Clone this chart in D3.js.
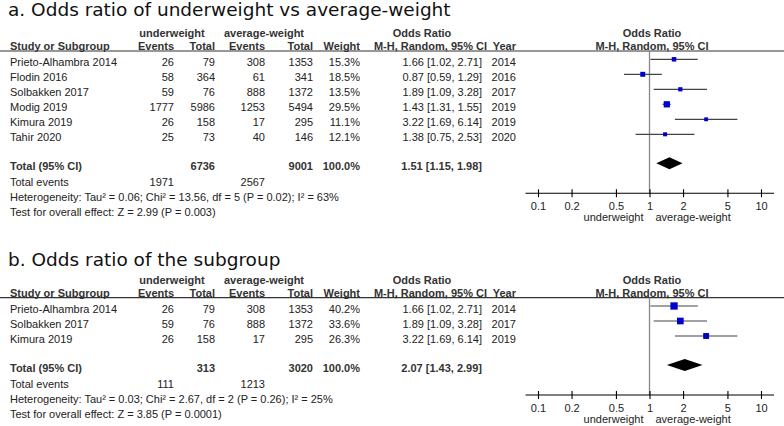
<!DOCTYPE html>
<html><head><meta charset="utf-8">
<script src="https://cdn.jsdelivr.net/npm/d3@7"></script>
<style>
body{margin:0;background:#fff;}
text{font-family:"Liberation Sans",Arial,sans-serif;font-size:11px;fill:#222;}
.title{font-family:"DejaVu Sans",sans-serif;font-size:18.5px;fill:#111;}
.b{font-weight:bold;fill:#333;}
</style></head><body>
<svg id="c" width="784" height="426"></svg>
<script>
// Panel a data
const studiesA = ["Prieto-Alhambra 2014","Flodin 2016","Solbakken 2017","Modig 2019","Kimura 2019","Tahir 2020"];
const evUWA = [26,58,59,1777,26,25];
const totUWA = [79,364,76,5986,158,73];
const evAWA = [308,61,888,1253,17,40];
const totAWA = [1353,341,1372,5494,295,146];
const weightA = [15.3,18.5,13.5,29.5,11.1,12.1];
const orA = [1.66,0.87,1.89,1.43,3.22,1.38];
const loA = [1.02,0.59,1.09,1.31,1.69,0.75];
const hiA = [2.71,1.29,3.28,1.55,6.14,2.53];
const yearA = [2014,2016,2017,2019,2019,2020];
const totalA = {uw:6736, aw:9001, w:"100.0%", or:1.51, lo:1.15, hi:1.98, evUW:1971, evAW:2567,
  het:"Heterogeneity: Tau² = 0.06; Chi² = 13.56, df = 5 (P = 0.02); I² = 63%",
  test:"Test for overall effect: Z = 2.99 (P = 0.003)"};

// Panel b data
const studiesB = ["Prieto-Alhambra 2014","Solbakken 2017","Kimura 2019"];
const evUWB = [26,59,26];
const totUWB = [79,76,158];
const evAWB = [308,888,17];
const totAWB = [1353,1372,295];
const weightB = [40.2,33.6,26.3];
const orB = [1.66,1.89,3.22];
const loB = [1.02,1.09,1.69];
const hiB = [2.71,3.28,6.14];
const yearB = [2014,2017,2019];
const totalB = {uw:313, aw:3020, w:"100.0%", or:2.07, lo:1.43, hi:2.99, evUW:111, evAW:1213,
  het:"Heterogeneity: Tau² = 0.03; Chi² = 2.67, df = 2 (P = 0.26); I² = 25%",
  test:"Test for overall effect: Z = 3.85 (P = 0.0001)"};

const tickVals = [0.1,0.2,0.5,1,2,5,10];
const tickLabels = ["0.1","0.2","0.5","1","2","5","10"];

const svg = d3.select("#c");
const x = d3.scaleLog().domain([0.1,10]).range([538,761]);
const size = d3.scaleSqrt().domain([0,40.2]).range([0,7.3]);
const fmt = d3.format(".2f");
const ciText = (o,l,h)=>`${fmt(o)} [${fmt(l)}, ${fmt(h)}]`;

// column right edges
const col = {study:10, evUW:174, totUW:215, evAW:265, totAW:313, w:360, or:482, year:516};

function panel(title, titleY, top, studies, evUW, totUW, evAW, totAW, weight, or, lo, hi, year, tot){
  const g = svg.append("g");
  g.append("text").attr("class","title").attr("x",8).attr("y",titleY).text(title);
  const h1 = top+37, h2 = top+50, rule = top+51;
  g.append("text").attr("class","b").attr("x",172).attr("y",h1).attr("text-anchor","middle").text("underweight");
  g.append("text").attr("class","b").attr("x",264).attr("y",h1).attr("text-anchor","middle").text("average-weight");
  g.append("text").attr("class","b").attr("x",422).attr("y",h1).attr("text-anchor","middle").text("Odds Ratio");
  g.append("text").attr("class","b").attr("x",652).attr("y",h1).attr("text-anchor","middle").text("Odds Ratio");
  g.append("text").attr("class","b").attr("x",col.study).attr("y",h2).text("Study or Subgroup");
  const hdr = [["Events",col.evUW],["Total",col.totUW],["Events",col.evAW],["Total",col.totAW],["Weight",col.w],["Year",col.year]];
  hdr.forEach(([t,cx])=>g.append("text").attr("class","b").attr("x",cx).attr("y",h2).attr("text-anchor","end").text(t));
  g.append("text").attr("class","b").attr("x",487).attr("y",h2).attr("text-anchor","end").text("M-H, Random, 95% CI");
  g.append("text").attr("class","b").attr("x",652).attr("y",h2).attr("text-anchor","middle").text("M-H, Random, 95% CI");
  g.append("line").attr("x1",0).attr("x2",784).attr("y1",rule).attr("y2",rule).attr("stroke","#333").attr("stroke-width",1.2);

  const row0 = top+59.3, step = 15;
  const ry = i => row0 + i*step;
  const totY = row0 + (studies.length+1)*step - 1;
  const axisY = totY + 30;

  // null line
  g.append("line").attr("x1",x(1)).attr("x2",x(1)).attr("y1",rule).attr("y2",axisY).attr("stroke","#888").attr("stroke-width",1.3);

  studies.forEach((s,i)=>{
    const ty = ry(i)+7;
    g.append("text").attr("x",col.study).attr("y",ty).text(s);
    [[evUW[i],col.evUW],[totUW[i],col.totUW],[evAW[i],col.evAW],[totAW[i],col.totAW],[weight[i].toFixed(1)+"%",col.w],[ciText(or[i],lo[i],hi[i]),col.or],[year[i],col.year]]
      .forEach(([t,cx])=>g.append("text").attr("x",cx).attr("y",ty).attr("text-anchor","end").text(t));
    g.append("line").attr("x1",x(lo[i])).attr("x2",x(hi[i])).attr("y1",ry(i)).attr("y2",ry(i)).attr("stroke","#444").attr("stroke-width",1.2);
    const sz = size(weight[i]);
    g.append("rect").attr("x",x(or[i])-sz/2).attr("y",ry(i)-sz/2).attr("width",sz).attr("height",sz).attr("fill","#0000cc");
  });

  const tty = totY+6.7;
  g.append("text").attr("class","b").attr("x",col.study).attr("y",tty).text("Total (95% CI)");
  [[tot.uw,col.totUW],[tot.aw,col.totAW],[tot.w,col.w],[ciText(tot.or,tot.lo,tot.hi),col.or]]
    .forEach(([t,cx])=>g.append("text").attr("class","b").attr("x",cx).attr("y",tty).attr("text-anchor","end").text(t));
  const dh = 6;
  g.append("path").attr("d",`M${x(tot.lo)},${totY}L${x(tot.or)},${totY-dh}L${x(tot.hi)},${totY}L${x(tot.or)},${totY+dh}Z`).attr("fill","#000");

  g.append("text").attr("x",col.study).attr("y",totY+23).text("Total events");
  g.append("text").attr("x",col.evUW).attr("y",totY+23).attr("text-anchor","end").text(tot.evUW);
  g.append("text").attr("x",col.evAW).attr("y",totY+23).attr("text-anchor","end").text(tot.evAW);
  g.append("text").attr("x",col.study).attr("y",totY+38).text(tot.het);
  g.append("text").attr("x",col.study).attr("y",totY+53).text(tot.test);

  // axis
  g.append("line").attr("x1",x(0.1)-12.5).attr("x2",x(10)+13).attr("y1",axisY).attr("y2",axisY).attr("stroke","#000").attr("stroke-width",1.1);
  const ax = g.append("g").attr("transform",`translate(0,${axisY-4})`)
    .call(d3.axisBottom(x).tickValues(tickVals).tickFormat((d,i)=>tickLabels[i]).tickSize(8));
  ax.select(".domain").remove();
  ax.selectAll(".tick line").attr("stroke","#000").attr("stroke-width",1.1);
  ax.selectAll(".tick text").attr("y",13).attr("fill","#222").style("font-family","\"Liberation Sans\",Arial,sans-serif").style("font-size","11px");
  g.append("text").attr("x",x(1)-6).attr("y",axisY+28).attr("text-anchor","end").text("underweight");
  g.append("text").attr("x",x(1)+6).attr("y",axisY+28).text("average-weight");
}

panel("a. Odds ratio of underweight vs average-weight", 15.5, 0, studiesA, evUWA, totUWA, evAWA, totAWA, weightA, orA, loA, hiA, yearA, totalA);
panel("b. Odds ratio of the subgroup", 266, 246.7, studiesB, evUWB, totUWB, evAWB, totAWB, weightB, orB, loB, hiB, yearB, totalB);
</script>
</body></html>
